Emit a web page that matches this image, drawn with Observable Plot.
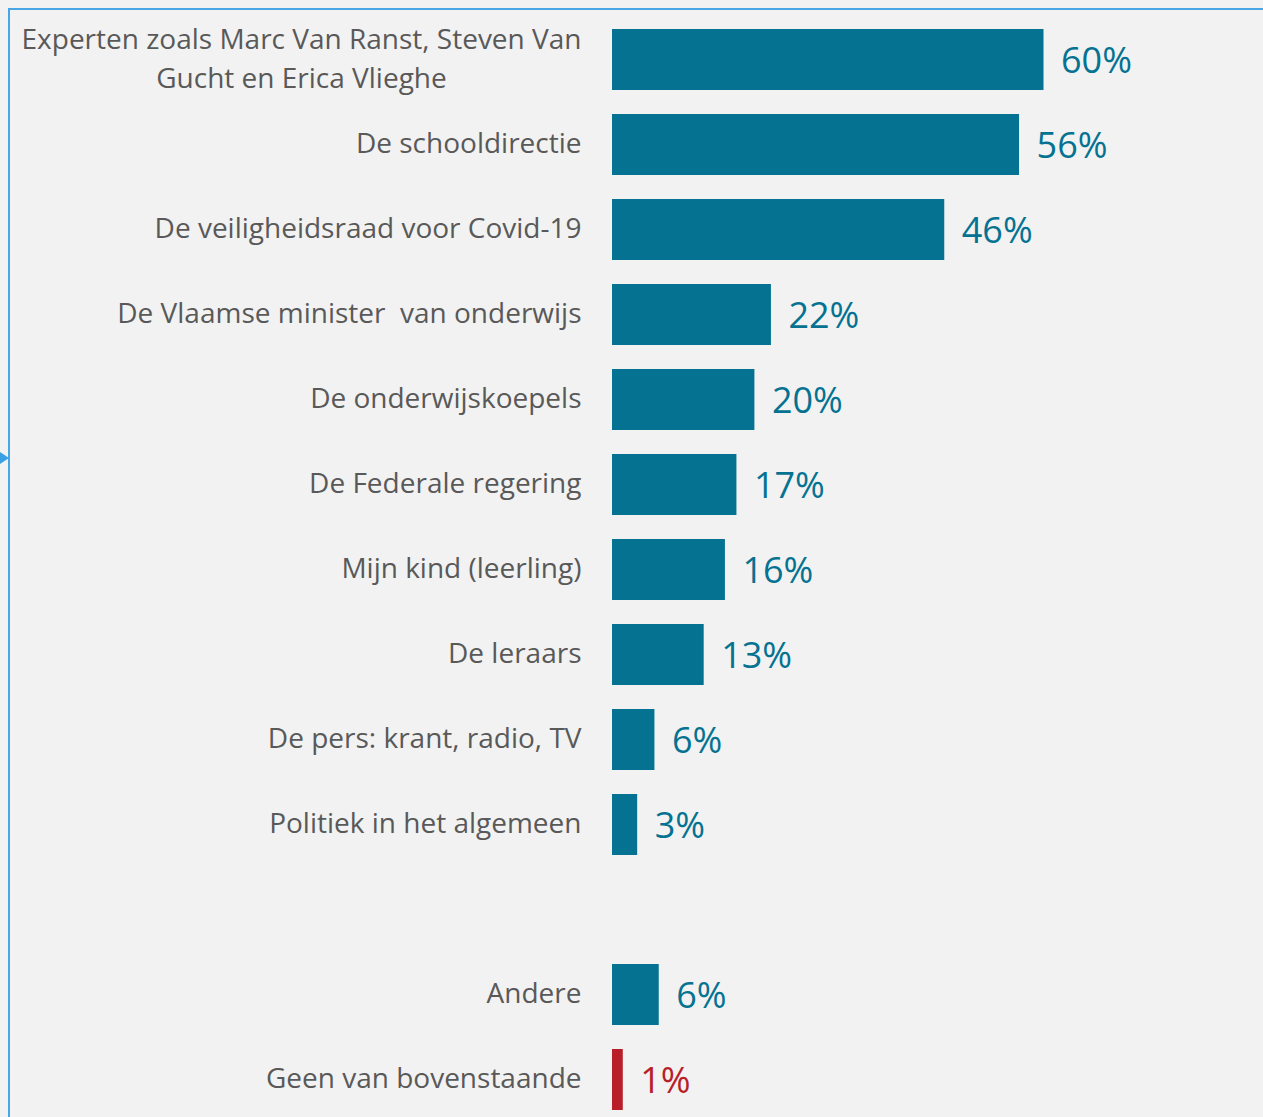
<!DOCTYPE html>
<html>
<head>
<meta charset="utf-8">
<script src="https://cdn.jsdelivr.net/npm/d3@7"></script>
<script src="https://cdn.jsdelivr.net/npm/@observablehq/plot@0.6"></script>
<style>
  html, body { margin: 0; padding: 0; background: #f2f2f2; }
  #wrap { position: relative; width: 1263px; height: 1117px; background: #f2f2f2; overflow: hidden; }
  #frame { position: absolute; left: 8px; top: 8px; width: 1300px; height: 1200px;
           border-left: 2px solid #49a6e4; border-top: 2px solid #49a6e4; }
  #arrow { position: absolute; left: 0; top: 452px; width: 0; height: 0;
           border-top: 6px solid transparent; border-bottom: 6px solid transparent; border-left: 9px solid #3aa0e4; }
  #chart { position: absolute; left: 0; top: 0; }
  #chart svg text { white-space: pre; }
</style>
</head>
<body>
<div id="wrap">
  <div id="frame"></div>
  <div id="arrow"></div>
  <div id="chart"></div>
</div>
<script>
const categories = [
  "Experten zoals Marc Van Ranst, Steven Van\nGucht en Erica Vlieghe",
  "De schooldirectie",
  "De veiligheidsraad voor Covid-19",
  "De Vlaamse minister  van onderwijs",
  "De onderwijskoepels",
  "De Federale regering",
  "Mijn kind (leerling)",
  "De leraars",
  "De pers: krant, radio, TV",
  "Politiek in het algemeen",
  "Andere",
  "Geen van bovenstaande"
];
const values = [60, 56.6, 46.2, 22.1, 19.8, 17.3, 15.7, 12.75, 5.9, 3.5, 6.5, 1.5];
const valueLabels = ["60%", "56%", "46%", "22%", "20%", "17%", "16%", "13%", "6%", "3%", "6%", "1%"];
const groups = ["main", "main", "main", "main", "main", "main", "main", "main", "main", "main", "other", "none"];
const spacer = " ";

const data = categories.map((c, i) => ({category: c, value: values[i], label: valueLabels[i], group: groups[i]}));
const yDomain = [...categories.slice(0, 10), spacer, ...categories.slice(10)];

const colorOf = g => g === "none" ? "#b81f29" : "#057292";
const single = data.filter(d => !d.category.includes("\n"));
const multi = data.filter(d => d.category.includes("\n"));

const labelStyle = {fill: "#595959", fontSize: 28, fontFamily: "Open Sans", lineHeight: 1.39, dy: -4};

const chart = Plot.plot({
  width: 1263,
  height: 1117,
  marginLeft: 612,
  marginRight: 0,
  marginTop: 0,
  marginBottom: 0,
  style: {background: "transparent", overflow: "visible"},
  x: {domain: [0, 60], range: [612, 1043.5], axis: null},
  y: {domain: yDomain, range: [0, 1139], paddingInner: 0.2824, paddingOuter: 0.341, axis: null},
  marks: [
    Plot.barX(data, {x: "value", y: "category", fill: d => colorOf(d.group)}),
    Plot.text(data, {
      x: "value", y: "category", text: "label", textAnchor: "start", dx: 17, dy: 1,
      fill: d => colorOf(d.group), fontSize: 36, fontFamily: "Open Sans"
    }),
    Plot.text(single, {
      y: "category", text: "category", frameAnchor: "left", textAnchor: "end", dx: -31, ...labelStyle
    }),
    Plot.text(multi, {
      y: "category", text: "category", frameAnchor: "left", textAnchor: "middle", dx: -311, ...labelStyle
    })
  ]
});
document.getElementById("chart").appendChild(chart);
</script>
</body>
</html>
